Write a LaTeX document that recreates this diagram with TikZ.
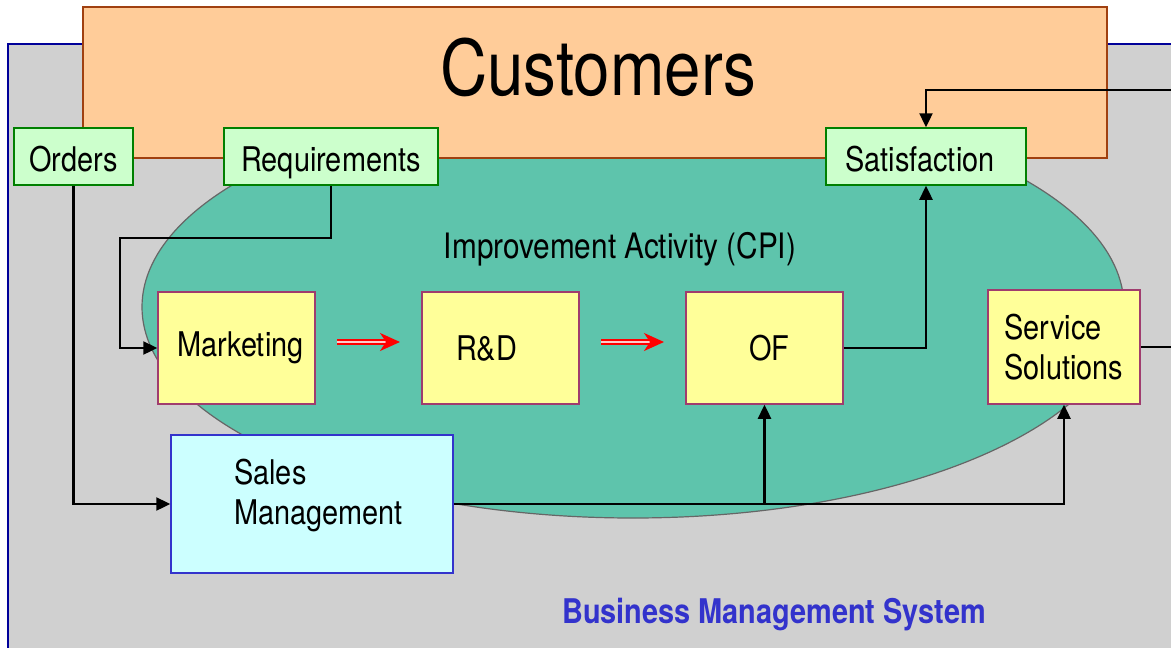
\documentclass[tikz,border=0pt]{standalone}
\usepackage{fontspec}
\setmainfont{TeX Gyre Heros}[FakeStretch=0.85]
\usetikzlibrary{arrows.meta}

\definecolor{bmsgray}{RGB}{208,208,208}
\definecolor{bmsblue}{RGB}{0,0,153}
\definecolor{custfill}{RGB}{255,204,153}
\definecolor{custline}{RGB}{160,64,16}
\definecolor{greenfill}{RGB}{204,255,204}
\definecolor{greenline}{RGB}{0,128,0}
\definecolor{cpifill}{RGB}{94,196,172}
\definecolor{yelfill}{RGB}{255,255,153}
\definecolor{yelline}{RGB}{160,60,110}
\definecolor{salesfill}{RGB}{204,255,255}
\definecolor{salesline}{RGB}{51,51,204}

\tikzset{every picture/.style={line width=1pt},
  inbox/.style={draw=greenline, fill=greenfill, line width=1.5pt, minimum height=57pt, inner sep=0pt, text height=30pt, text depth=0pt, font=\fontsize{34}{40}\selectfont},
  unitbox/.style={draw=yelline, fill=yelfill, line width=1.5pt, minimum width=157pt, minimum height=112pt, inner sep=0pt, font=\fontsize{34}{40}\selectfont},
  conn/.style={line width=2.4pt, -{Triangle[length=14pt,width=13pt]}},
  flow/.style={red, line width=1.6pt, double=red!20, double distance=2.2pt, -{Stealth[length=20pt,width=18pt,inset=6pt,fill=red]}}
}

\begin{document}
\begin{tikzpicture}[x=1pt,y=-1pt]
	\useasboundingbox (0,0) rectangle (1171,648);

	%Shape: Rectangle [business management system]
	\draw [bmsblue, fill=bmsgray, line width=2pt] (8,44) rectangle (1190,670) ;
	%Shape: Ellipse [improvement activity]
	\draw [draw=black!60, fill=cpifill, line width=1.2pt] (633,307) ellipse (491 and 211) ;
	%Shape: Rectangle [customers]
	\node [draw=custline, fill=custfill, line width=1.5pt, minimum width=1024pt, minimum height=151pt, inner sep=0pt] (cust) at (595,82.5) {};
	% Text Node
	\node [font=\fontsize{77}{84}\selectfont] (custtxt) at (598,67) {Customers};
	% Text Node
	\node [font=\fontsize{35}{40}\selectfont] (cpi) at (620,249) {Improvement Activity (CPI)};

	%Shapes: inputs and outputs
	\node [inbox, minimum width=119pt] (ord) at (73.5,156.5) {Orders};
	\node [inbox, minimum width=214pt] (req) at (331,156.5) {Requirements};
	\node [inbox, minimum width=200pt] (sat) at (926,156.5) {\hspace*{-12pt}Satisfaction};

	%Shapes: units
	\node [unitbox] (mkt) at (236.5,348) {\hspace*{8pt}Marketing};
	\node [unitbox] (rnd) at (500.5,348) {\hspace*{-28pt}R\&D};
	\node [unitbox] (of) at (764.5,348) {\hspace*{10pt}OF};
	\node [unitbox, minimum width=152pt, minimum height=114pt, align=left] (serv) at (1064,347) {Service\\Solutions};

	%Shape: Rectangle [sales management]
	\node [draw=salesline, fill=salesfill, line width=1.5pt, minimum width=282pt, minimum height=138pt, inner sep=0pt] (sales) at (312,504) {};
	% Text Node
	\node [font=\fontsize{34}{40}\selectfont, align=left] (salestxt) at (318.5,496) {Sales\\Management};

	% Text Node
	\node [salesline, font=\bfseries\fontsize{34}{40}\selectfont] (bms) at (774,615) {Business Management System};

	%Straight Lines [flow]
	\draw [flow] (337,342) -- (400,342) ;
	\draw [flow] (601,342) -- (664,342) ;

	%Connectors
	\coordinate (inR) at (1180,90) ;
	\draw [conn] (req.south) |- (120,238) |- (mkt.west) ;
	\draw [conn] (ord.south) |- (sales.west) ;
	\draw [conn] (sales.east) -| (serv.south) ;
	\draw [conn] (of.south |- sales.east) -- (of.south) ;
	\draw [conn] (of.east) -| (sat.south) ;
	\draw [line width=2.4pt] (serv.east) -- (serv.east -| inR) ;
	\draw [conn] (inR) -| (sat.north) ;

\end{tikzpicture}
\end{document}
